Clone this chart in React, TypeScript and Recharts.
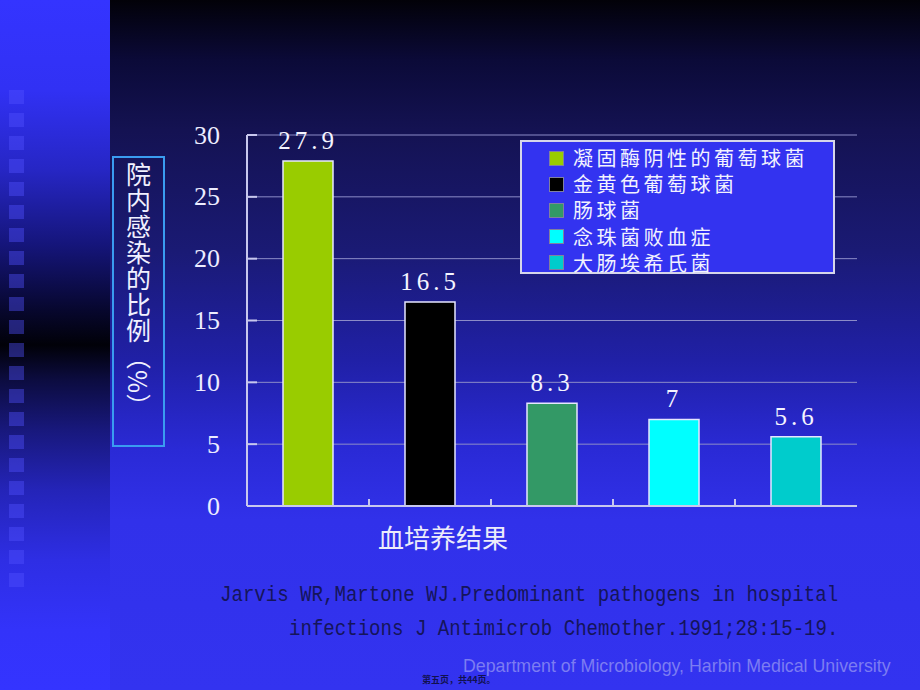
import { Bar, BarChart, CartesianGrid, Cell, LabelList, Legend, XAxis, YAxis } from "recharts";

const pathogens = [
  "凝固酶阴性的葡萄球菌",
  "金黄色葡萄球菌",
  "肠球菌",
  "念珠菌败血症",
  "大肠埃希氏菌",
];
const rates = [27.9, 16.5, 8.3, 7, 5.6];
const barColors = ["#99cc00", "#000000", "#339966", "#00ffff", "#00cccc"];
const yTicks = [0, 5, 10, 15, 20, 25, 30];

const yLabel = "院内感染的比例（%）";
const xLabel = "血培养结果";
const citation = [
  "Jarvis WR,Martone WJ.Predominant pathogens in hospital",
  "infections J Antimicrob Chemother.1991;28:15-19.",
];
const footer = "Department of Microbiology, Harbin Medical University";
const pageNote = "第五页，共44页。";

const data = pathogens.map((name, i) => ({ name, rate: rates[i] }));

const CJK = '"Noto Sans CJK SC", sans-serif';
const SERIF = '"Liberation Serif", serif';

function YTick({ x, y, payload }: any) {
  return (
    <g>
      <text
        x={x}
        y={y}
        textAnchor="end"
        dominantBaseline="central"
        fill="#ececff"
        fontSize={26}
        fontFamily={SERIF}
      >
        {payload.value}
      </text>
      <line x1={x + 27} x2={x + 37} y1={y} y2={y} stroke="#c8c8ee" strokeWidth={2} />
    </g>
  );
}

// tick marks between categories, pointing up into the plot
function XTick({ x, y, payload, index }: any) {
  const off = payload?.offset ?? 0;
  return (
    <g>
      <line x1={x - off} x2={x - off} y1={y} y2={y - 7} stroke="#c8c8ee" strokeWidth={2} />
      {index === pathogens.length - 1 ? (
        <line x1={x + off} x2={x + off} y1={y} y2={y - 7} stroke="#c8c8ee" strokeWidth={2} />
      ) : null}
    </g>
  );
}

function LegendBox() {
  return (
    <div
      style={{
        boxSizing: "border-box",
        width: 315,
        height: 134,
        border: "2px solid #d6d6ea",
        background: "#3333f0",
        paddingTop: 3,
      }}
    >
      {pathogens.map((name, i) => (
        <div
          key={name}
          style={{ display: "flex", alignItems: "center", height: 26.2, paddingLeft: 27 }}
        >
          <span
            style={{
              display: "inline-block",
              width: 13,
              height: 13,
              background: barColors[i],
              border: "1px solid #8080a0",
              marginRight: 9,
            }}
          />
          <span
            style={{
              fontFamily: CJK,
              fontSize: 20,
              letterSpacing: 3.5,
              color: "#f2f2ff",
              lineHeight: "26px",
            }}
          >
            {name}
          </span>
        </div>
      ))}
    </div>
  );
}

export default function App() {
  return (
    <div
      style={{
        position: "absolute",
        left: 0,
        top: 0,
        width: 920,
        height: 690,
        overflow: "hidden",
        background:
          "linear-gradient(to bottom, #020108 0px, #0b0a38 60px, #141252 130px, #1a1a74 250px, #2020a6 360px, #2a2ad6 450px, #3131ea 520px, #3333f0 690px)",
      }}
    >
      <div
        style={{
          position: "absolute",
          left: 0,
          top: 0,
          width: 110,
          height: 690,
          background:
            "linear-gradient(to bottom, #3434ff 0px, #3131f4 90px, #2626c4 170px, #15157a 245px, #07072e 310px, #010108 345px, #0c0c40 380px, #18187c 430px, #2424b8 490px, #2e2ee4 560px, #3333fa 630px, #3434ff 690px)",
        }}
      />
      {Array.from({ length: 22 }).map((_, i) => (
        <div
          key={i}
          style={{
            position: "absolute",
            left: 9,
            top: 90 + i * 23,
            width: 15,
            height: 14,
            background: "rgba(80,80,255,0.42)",
          }}
        />
      ))}

      <div style={{ position: "absolute", left: 0, top: 0, width: 920, height: 690 }}>
        <BarChart
          width={920}
          height={690}
          data={data}
          margin={{ top: 135, right: 63, bottom: 154, left: 167 }}
        >
          <CartesianGrid vertical={false} stroke="#8c8cc8" strokeWidth={1} />
          <XAxis
            dataKey="name"
            height={30}
            tickLine={false}
            tickSize={0}
            tickMargin={0}
            tick={<XTick />}
            axisLine={{ stroke: "#c8c8ee", strokeWidth: 2 }}
          />
          <YAxis
            width={80}
            domain={[0, 30]}
            ticks={yTicks}
            tickLine={false}
            tickSize={0}
            tickMargin={27}
            tick={<YTick />}
            axisLine={{ stroke: "#c8c8ee", strokeWidth: 2 }}
          />
          <Legend
            layout="vertical"
            align="center"
            verticalAlign="middle"
            content={() => <LegendBox />}
            wrapperStyle={{ position: "absolute", left: 520, top: 140, width: 315, height: 134 }}
          />
          <Bar
            dataKey="rate"
            barSize={50}
            stroke="#e6e6ff"
            strokeWidth={1.5}
            isAnimationActive={false}
          >
            {data.map((d, i) => (
              <Cell key={d.name} fill={barColors[i]} />
            ))}
            <LabelList
              dataKey="rate"
              position="top"
              offset={12}
              fill="#f4f4ff"
              fontSize={25}
              fontFamily={SERIF}
              letterSpacing={4}
            />
          </Bar>
        </BarChart>
      </div>

      <div
        style={{
          position: "absolute",
          left: 112,
          top: 156,
          width: 53,
          height: 291,
          boxSizing: "border-box",
          border: "2px solid #3a9cf0",
          display: "flex",
          justifyContent: "center",
          paddingTop: 4,
        }}
      >
        <span
          style={{
            writingMode: "vertical-rl",
            fontFamily: CJK,
            fontSize: 25,
            lineHeight: "30px",
            color: "#f0f0ff",
            letterSpacing: 1,
          }}
        >
          {yLabel}
        </span>
      </div>

      <div
        style={{
          position: "absolute",
          left: 378,
          top: 522,
          fontFamily: CJK,
          fontSize: 26,
          lineHeight: "30px",
          color: "#ececfa",
          whiteSpace: "nowrap",
        }}
      >
        {xLabel}
      </div>

      {citation.map((line, i) => (
        <div
          key={line}
          style={{
            position: "absolute",
            left: i === 0 ? 220 : 289,
            top: 581 + i * 34,
            fontFamily: '"Liberation Mono", monospace',
            fontSize: 22,
            lineHeight: "30px",
            color: "#15155a",
            whiteSpace: "nowrap",
            transform: "scaleX(0.867)",
            transformOrigin: "left center",
          }}
        >
          {line}
        </div>
      ))}

      <div
        style={{
          position: "absolute",
          left: 463,
          top: 654,
          fontFamily: '"Liberation Sans", Arial, sans-serif',
          fontSize: 17.8,
          lineHeight: "24px",
          color: "#7c7cf2",
          whiteSpace: "nowrap",
        }}
      >
        {footer}
      </div>
      <div
        style={{
          position: "absolute",
          left: 422,
          top: 673,
          fontFamily: CJK,
          fontSize: 9,
          fontWeight: 700,
          lineHeight: "14px",
          color: "#111150",
          whiteSpace: "nowrap",
        }}
      >
        {pageNote}
      </div>
    </div>
  );
}
